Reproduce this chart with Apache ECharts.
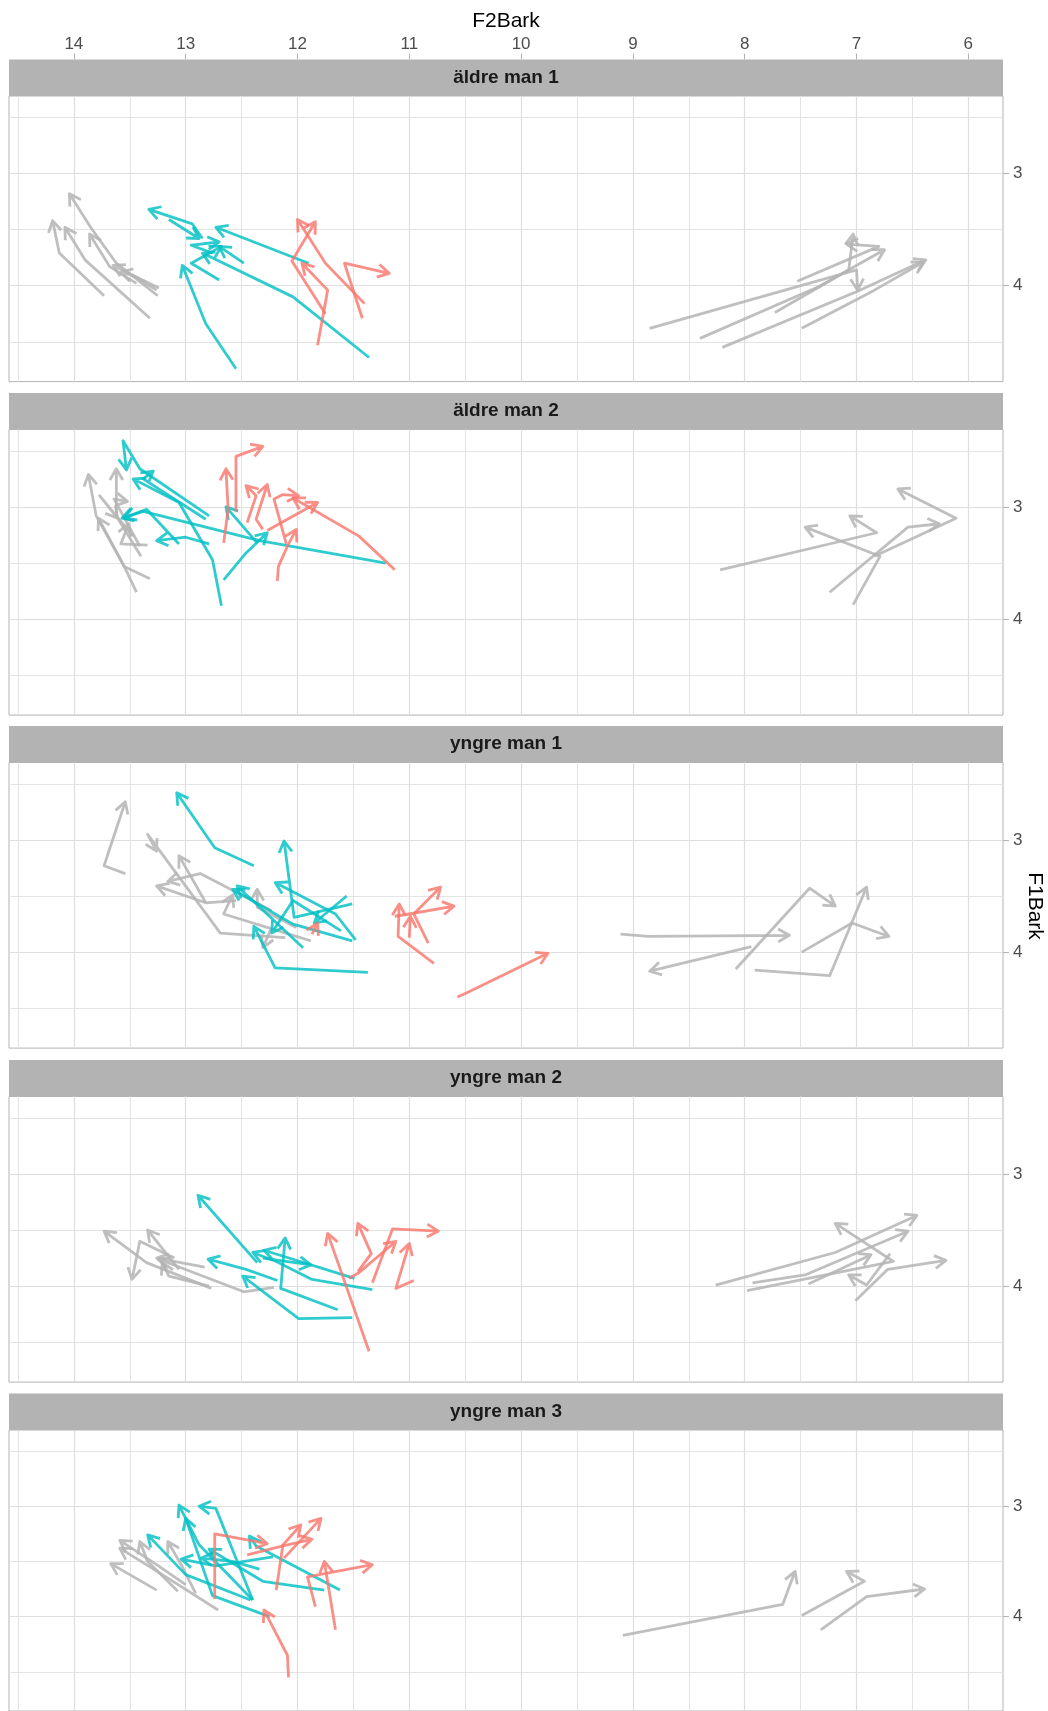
<!DOCTYPE html>
<html>
<head>
<meta charset="utf-8">
<script src="https://cdn.jsdelivr.net/npm/echarts@6.0.0/dist/echarts.min.js"></script>
<style>
    body { margin: 0; background: #fff; }
    #main { width: 1048px; height: 1711px; }
</style>
</head>
<body>
<div id="main"></div>
<script>
// panels and axis ticks
const speakers = ['äldre man 1', 'äldre man 2', 'yngre man 1', 'yngre man 2', 'yngre man 3'];
const xTicks = [6, 7, 8, 9, 10, 11, 12, 13, 14];
const xMinor = [6.5, 7.5, 8.5, 9.5, 10.5, 11.5, 12.5, 13.5, 14.5];
const yTicks = [3, 4];
const yMinor = [2.5, 3.5, 4.5];
const xRange = [5.69, 14.58];
const yRange = [2.31, 4.855];

// each path is a list of [F2Bark, F1Bark] points, arrow at the last point
const aldre1Gray = [
    [[13.73, 4.09], [14.13, 3.71], [14.19, 3.42]],
    [[13.32, 4.29], [13.90, 3.77], [14.08, 3.48]],
    [[13.25, 4.09], [13.62, 3.80], [13.85, 3.48], [14.04, 3.18]],
    [[13.44, 3.98], [13.68, 3.83], [13.86, 3.54]],
    [[13.24, 4.02], [13.65, 3.82]],
    [[13.26, 4.04], [13.47, 3.91], [13.58, 3.88]],
    [[8.85, 4.38], [7.00, 3.86], [6.99, 4.04]],
    [[8.40, 4.47], [7.34, 4.01], [6.75, 3.68]],
    [[8.20, 4.55], [6.99, 4.05], [6.38, 3.77]],
    [[7.49, 4.38], [6.84, 4.04], [6.40, 3.79]],
    [[7.73, 4.24], [7.07, 3.86], [7.03, 3.54]],
    [[7.53, 3.96], [6.80, 3.65], [7.09, 3.63]]
];
const aldre1Teal = [
    [[12.55, 4.74], [12.82, 4.34], [13.03, 3.82]],
    [[11.36, 4.64], [12.04, 4.10], [12.85, 3.71]],
    [[11.90, 3.80], [12.73, 3.48]],
    [[12.48, 3.80], [12.70, 3.65]],
    [[12.70, 3.95], [12.95, 3.80], [12.68, 3.65]],
    [[12.85, 3.58], [12.94, 3.45], [13.33, 3.32]],
    [[13.15, 3.41], [12.88, 3.58]],
    [[12.76, 3.71], [12.95, 3.64], [12.70, 3.61]]
];
const aldre1Red = [
    [[11.82, 4.53], [11.73, 4.04], [11.96, 3.80]],
    [[11.75, 4.25], [12.05, 3.78], [11.84, 3.43]],
    [[11.40, 4.16], [11.75, 3.80], [12.00, 3.41]],
    [[11.42, 4.29], [11.58, 3.80], [11.18, 3.89]]
];

const aldre2Gray = [
    [[13.44, 3.76], [13.55, 3.53], [13.80, 3.08], [13.87, 2.71]],
    [[13.32, 3.64], [13.55, 3.53], [13.78, 3.10]],
    [[13.40, 3.44], [13.62, 3.08], [13.62, 2.66]],
    [[13.34, 3.34], [13.58, 3.33], [13.51, 3.15]],
    [[13.47, 3.26], [13.77, 2.90], [13.61, 3.10]],
    [[13.41, 3.35], [13.64, 2.93], [13.52, 2.95]],
    [[8.22, 3.56], [6.82, 3.23], [7.06, 3.08]],
    [[7.24, 3.76], [6.54, 3.18], [6.26, 3.15]],
    [[7.03, 3.87], [6.79, 3.44], [7.46, 3.18]],
    [[6.84, 3.44], [6.11, 3.10], [6.63, 2.84]]
];
const aldre2Teal = [
    [[12.68, 3.88], [12.76, 3.47], [13.06, 2.96], [13.47, 2.75]],
    [[12.79, 3.08], [13.41, 2.66], [13.56, 2.41], [13.53, 2.67]],
    [[11.21, 3.50], [12.34, 3.30], [13.38, 3.04], [13.57, 3.10]],
    [[12.66, 3.65], [12.46, 3.41], [12.27, 3.23]],
    [[12.36, 3.32], [12.64, 3.00]],
    [[12.79, 3.33], [13.00, 3.27], [13.26, 3.30]],
    [[13.06, 3.33], [13.35, 3.02], [13.55, 3.10]],
    [[12.82, 3.11], [13.38, 2.75], [13.29, 2.68]]
];
const aldre2Red = [
    [[12.66, 3.32], [12.62, 3.02], [12.64, 2.66]],
    [[12.55, 3.04], [12.55, 2.55], [12.31, 2.46]],
    [[12.18, 3.66], [12.17, 3.53], [12.09, 3.35], [12.01, 3.20]],
    [[11.13, 3.56], [11.45, 3.26], [12.04, 2.92]],
    [[12.27, 3.21], [11.82, 2.96]],
    [[12.45, 3.14], [12.37, 2.90], [12.46, 2.81]],
    [[12.10, 3.33], [12.21, 2.93], [12.13, 2.89], [11.99, 2.90]],
    [[12.31, 3.20], [12.37, 3.11], [12.27, 2.80]]
];

const yngre1Gray = [
    [[13.54, 3.30], [13.73, 3.23], [13.54, 2.66]],
    [[12.11, 3.87], [12.69, 3.83], [13.34, 2.95], [13.26, 3.10]],
    [[12.82, 3.56], [13.06, 3.14]],
    [[12.23, 3.63], [12.87, 3.30], [13.16, 3.37]],
    [[12.55, 3.54], [12.82, 3.56], [13.26, 3.41]],
    [[11.88, 3.90], [12.66, 3.66], [12.58, 3.49]],
    [[12.01, 3.78], [12.36, 3.60], [12.36, 3.44]],
    [[12.23, 3.78], [12.31, 3.96]],
    [[9.11, 3.84], [8.86, 3.86], [7.60, 3.85]],
    [[7.94, 3.95], [8.85, 4.17]],
    [[8.08, 4.15], [7.42, 3.43], [7.19, 3.59]],
    [[7.49, 4.00], [7.04, 3.74], [6.71, 3.86]],
    [[7.91, 4.16], [7.24, 4.21], [6.91, 3.42]]
];
const yngre1Teal = [
    [[12.39, 3.23], [12.74, 3.07], [13.08, 2.58]],
    [[11.37, 4.18], [12.20, 4.14], [12.39, 3.77]],
    [[11.51, 3.57], [12.03, 3.69], [12.12, 3.01]],
    [[11.48, 3.89], [11.66, 3.66], [12.20, 3.38]],
    [[11.61, 3.81], [12.04, 3.54], [12.23, 3.83]],
    [[11.95, 3.96], [12.54, 3.41]],
    [[11.51, 3.90], [12.04, 3.75], [12.58, 3.44]],
    [[11.56, 3.50], [11.85, 3.74]]
];
const yngre1Red = [
    [[10.78, 4.10], [11.10, 3.86], [11.09, 3.57]],
    [[10.83, 3.92], [10.96, 3.66], [10.72, 3.42]],
    [[11.13, 3.68], [11.00, 3.66], [10.60, 3.59]],
    [[11.00, 3.87], [10.99, 3.68]],
    [[10.57, 4.40], [10.48, 4.36], [9.76, 4.01]],
    [[11.87, 3.84], [11.82, 3.74]]
];

const yngre2Gray = [
    [[12.77, 4.02], [13.35, 3.79], [13.73, 3.51]],
    [[13.10, 3.75], [13.41, 3.60], [13.48, 3.94]],
    [[13.06, 3.85], [13.34, 3.50]],
    [[12.83, 3.83], [13.26, 3.75]],
    [[12.21, 4.01], [12.48, 4.05], [13.24, 3.76]],
    [[12.79, 4.00], [13.15, 3.91], [13.21, 3.79]],
    [[8.26, 3.99], [7.19, 3.70], [6.46, 3.37]],
    [[7.98, 4.04], [6.67, 3.78], [7.19, 3.44]],
    [[7.93, 3.97], [7.46, 3.90], [6.54, 3.51]],
    [[7.43, 3.98], [6.87, 3.72]],
    [[7.01, 4.13], [6.72, 3.85], [6.20, 3.77]],
    [[6.70, 3.71], [6.91, 3.99], [7.07, 3.90]]
];
const yngre2Teal = [
    [[12.36, 3.79], [12.89, 3.19]],
    [[12.18, 3.95], [12.46, 3.85], [12.80, 3.76]],
    [[11.64, 4.21], [12.15, 4.02], [12.11, 3.57]],
    [[11.51, 4.28], [11.99, 4.29], [12.49, 3.91]],
    [[11.33, 4.03], [11.87, 3.94], [12.19, 3.78], [12.40, 3.70]],
    [[11.49, 3.93], [12.30, 3.68]],
    [[12.31, 3.75], [11.88, 3.81]]
];
const yngre2Red = [
    [[11.36, 4.58], [11.73, 3.53]],
    [[11.33, 3.97], [11.15, 3.49], [10.74, 3.51]],
    [[11.46, 3.87], [11.34, 3.71], [11.46, 3.44]],
    [[10.96, 3.95], [11.12, 4.02], [11.00, 3.62]],
    [[11.54, 3.93], [11.45, 3.88], [11.12, 3.60]]
];

const yngre3Gray = [
    [[13.26, 3.76], [13.67, 3.52]],
    [[13.07, 3.77], [13.34, 3.50], [13.41, 3.32]],
    [[12.91, 3.79], [13.04, 3.53], [13.16, 3.32]],
    [[12.71, 3.94], [13.24, 3.60], [13.59, 3.38]],
    [[13.00, 3.71], [13.26, 3.53], [13.59, 3.31]],
    [[9.09, 4.17], [7.66, 3.89], [7.55, 3.59]],
    [[7.49, 3.99], [6.93, 3.68], [7.09, 3.59]],
    [[7.32, 4.12], [6.91, 3.82], [6.39, 3.75]]
];
const yngre3Teal = [
    [[12.40, 3.85], [12.73, 3.02], [12.88, 3.00]],
    [[12.25, 4.00], [12.76, 3.81], [13.00, 3.11]],
    [[12.40, 3.85], [12.88, 3.35], [13.06, 2.99]],
    [[11.62, 3.76], [12.37, 3.36], [12.43, 3.27]],
    [[11.76, 3.76], [12.31, 3.68], [12.79, 3.39]],
    [[12.42, 3.85], [13.00, 3.62], [13.34, 3.26]],
    [[12.22, 3.46], [12.73, 3.54], [13.04, 3.48]],
    [[12.34, 3.57], [12.58, 3.50], [12.86, 3.47]]
];
const yngre3Red = [
    [[12.08, 4.55], [12.09, 4.35], [12.30, 3.94]],
    [[12.74, 3.84], [12.74, 3.25], [12.27, 3.34]],
    [[11.66, 4.12], [11.76, 3.50]],
    [[11.84, 3.91], [11.91, 3.64], [11.33, 3.53]],
    [[12.19, 3.76], [12.13, 3.35], [11.97, 3.17]],
    [[12.45, 3.44], [12.13, 3.36], [11.87, 3.30]],
    [[12.12, 3.47], [11.79, 3.11]]
];

const panelData = [
    [aldre1Gray, aldre1Teal, aldre1Red],
    [aldre2Gray, aldre2Teal, aldre2Red],
    [yngre1Gray, yngre1Teal, yngre1Red],
    [yngre2Gray, yngre2Teal, yngre2Red],
    [yngre3Gray, yngre3Teal, yngre3Red]
];
const groupColors = ['rgba(180,180,180,0.85)', 'rgba(0,191,196,0.82)', 'rgba(248,118,109,0.82)'];

const init = () => {
    let chartDom = document.getElementById('main');
    let myChart = echarts.init(chartDom, null, { renderer: 'canvas' });
    const font = 'Liberation Sans';

    // layout
    const plotLeft = 9;
    const plotWidth = 994;
    const plotHeight = 285.6;
    const stripHeight = 36.5;
    const tops = [96, 429.5, 762.5, 1096.5, 1430];

    let grid = [];
    let xAxis = [];
    let yAxis = [];
    let series = [];
    let graphic = [];

    tops.forEach((top, i) => {
        grid.push({
            left: plotLeft, top: top, width: plotWidth, height: plotHeight,
            show: true, borderColor: '#b3b3b3', borderWidth: 1, backgroundColor: '#fff'
        });

        // major + minor x axes
        xAxis.push({
            gridIndex: i, type: 'value', inverse: true, min: xRange[0], max: xRange[1],
            position: 'top', offset: stripHeight,
            axisLine: { show: false },
            axisTick: { show: i === 0, customValues: xTicks, length: 6, lineStyle: { color: '#b3b3b3' } },
            axisLabel: { show: i === 0, customValues: xTicks, fontSize: 17, color: '#4d4d4d', fontFamily: font, margin: 7 },
            splitLine: { show: true, lineStyle: { color: '#dedede', width: 1.2 } }
        });
        xAxis.push({
            gridIndex: i, type: 'value', inverse: true, min: xRange[0], max: xRange[1],
            position: 'bottom',
            axisLine: { show: false },
            axisTick: { show: false, customValues: xMinor },
            axisLabel: { show: false },
            splitLine: { show: true, lineStyle: { color: '#e3e3e3', width: 1 } }
        });

        yAxis.push({
            gridIndex: i, type: 'value', inverse: true, min: yRange[0], max: yRange[1],
            position: 'right',
            axisLine: { show: false },
            axisTick: { show: true, customValues: yTicks, length: 6, lineStyle: { color: '#b3b3b3' } },
            axisLabel: { customValues: yTicks, fontSize: 17, color: '#4d4d4d', fontFamily: font, margin: 10 },
            splitLine: { show: true, lineStyle: { color: '#dedede', width: 1.2 } }
        });
        yAxis.push({
            gridIndex: i, type: 'value', inverse: true, min: yRange[0], max: yRange[1],
            position: 'left',
            axisLine: { show: false },
            axisTick: { show: false, customValues: yMinor },
            axisLabel: { show: false },
            splitLine: { show: true, lineStyle: { color: '#e3e3e3', width: 1 } }
        });

        // paths with open arrow heads
        panelData[i].forEach((paths, g) => {
            series.push({
                type: 'custom',
                xAxisIndex: 2 * i,
                yAxisIndex: 2 * i,
                data: paths.map((p, k) => [p[p.length - 1][0], p[p.length - 1][1], k]),
                renderItem: (params, api) => {
                    let pts = paths[api.value(2)].map(p => api.coord(p));
                    let a = pts[pts.length - 2];
                    let b = pts[pts.length - 1];
                    let ang = Math.atan2(b[1] - a[1], b[0] - a[0]);
                    let L = 13, h = Math.PI / 6;
                    let arm1 = [b[0] - L * Math.cos(ang - h), b[1] - L * Math.sin(ang - h)];
                    let arm2 = [b[0] - L * Math.cos(ang + h), b[1] - L * Math.sin(ang + h)];
                    let d = 'M' + pts.map(q => q[0] + ' ' + q[1]).join(' L');
                    d += ' M' + arm1[0] + ' ' + arm1[1] + ' L' + b[0] + ' ' + b[1] + ' L' + arm2[0] + ' ' + arm2[1];
                    return {
                        type: 'path',
                        shape: { pathData: d },
                        style: { stroke: groupColors[g], fill: null, lineWidth: 2.8, lineJoin: 'round', lineCap: 'butt' }
                    };
                }
            });
        });

        // facet strip
        graphic.push({
            type: 'rect',
            shape: { x: plotLeft, y: top - stripHeight, width: plotWidth, height: stripHeight },
            style: { fill: '#b3b3b3' }
        });
        graphic.push({
            type: 'text',
            x: plotLeft + plotWidth / 2,
            y: top - stripHeight / 2,
            style: {
                text: speakers[i], fill: '#1a1a1a', font: 'bold 19px "Liberation Sans"',
                align: 'center', verticalAlign: 'middle'
            }
        });
    });

    // axis titles
    graphic.push({
        type: 'text', x: plotLeft + plotWidth / 2, y: 21,
        style: { text: 'F2Bark', fill: '#000', font: '21px "Liberation Sans"', align: 'center', verticalAlign: 'middle' }
    });
    graphic.push({
        type: 'text', x: 1035, y: 906, rotation: -Math.PI / 2,
        style: { text: 'F1Bark', fill: '#000', font: '21px "Liberation Sans"', align: 'center', verticalAlign: 'middle' }
    });

    const option = {
        animation: false,
        backgroundColor: '#fff',
        grid,
        xAxis,
        yAxis,
        series,
        graphic
    };
    option && myChart.setOption(option);
};

init();
</script>
</body>
</html>
